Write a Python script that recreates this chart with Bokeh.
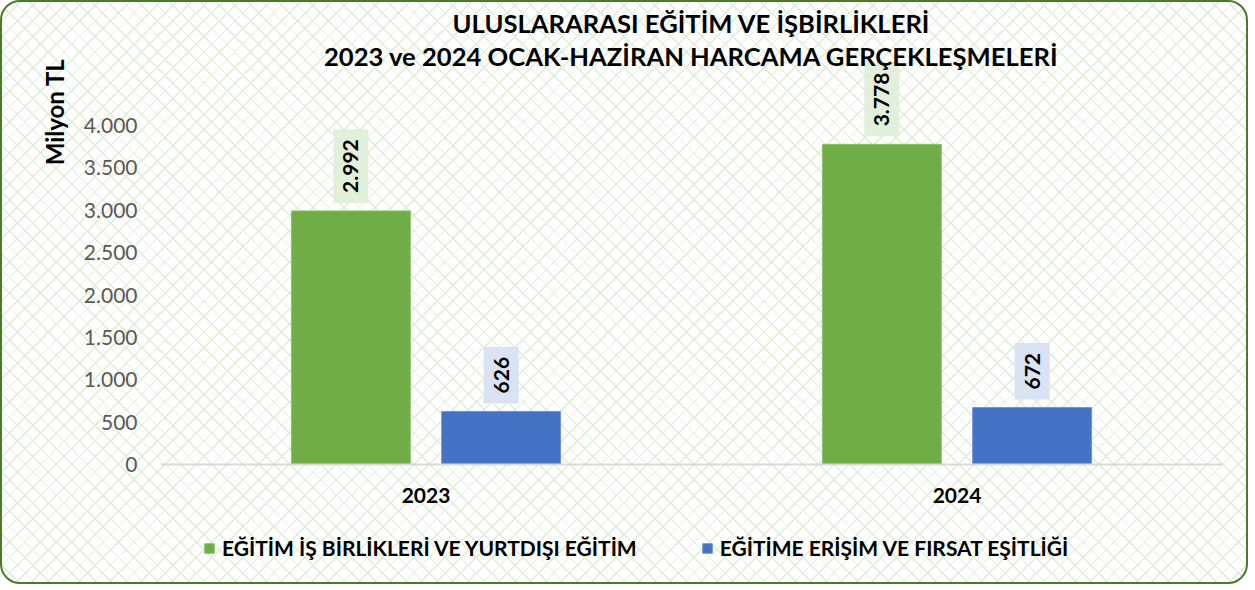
import math
from bokeh.plotting import figure
from bokeh.models import (FactorRange, Range1d, FixedTicker, ColumnDataSource,
                          Legend, LegendItem, Label, Title, Span)
from bokeh.transform import dodge
from bokeh.embed import file_html
from bokeh.resources import INLINE
from bokeh.core.properties import value

# ---------------- data ----------------
years = ["2023", "2024"]
egitim_isbirlikleri = [2992, 3778]
firsat_esitligi = [626, 672]
series_names = ["EĞİTİM İŞ BİRLİKLERİ VE YURTDIŞI EĞİTİM",
                "EĞİTİME ERİŞİM VE FIRSAT EŞİTLİĞİ"]
y_ticks = [0, 500, 1000, 1500, 2000, 2500, 3000, 3500, 4000]
y_tick_labels = ["0", "500", "1.000", "1.500", "2.000", "2.500", "3.000", "3.500", "4.000"]
title_lines = ["ULUSLARARASI EĞİTİM VE İŞBİRLİKLERİ",
               "2023 ve 2024 OCAK-HAZİRAN HARCAMA GERÇEKLEŞMELERİ"]
y_axis_title = "Milyon TL"

# ---------------- style / layout ----------------
FONT = "Lato"
GREEN, BLUE = "#70ad47", "#4472c4"
GREEN_LBL, BLUE_LBL = "#e2efda", "#dae3f3"
W, H = 1248, 584
FRAME_L, FRAME_R = 158, 28
ZERO_Y = 462                          # screen y of the value 0 line
px_per_unit = 339.0 / 4000.0          # pixels per data unit on y
y_top = ZERO_Y / px_per_unit
y_bottom = -(H - ZERO_Y) / px_per_unit


def y_at(sy):
    """data y for a screen y (px from the top of the plot)"""
    return (ZERO_Y - sy) / px_per_unit


def fmt(v):
    return f"{v:,}".replace(",", ".")


src = ColumnDataSource(dict(
    year=years,
    a=egitim_isbirlikleri,
    b=firsat_esitligi,
    a_txt=[fmt(v) for v in egitim_isbirlikleri],
    b_txt=[fmt(v) for v in firsat_esitligi],
    base=[0] * len(years),
))

LC = "#e0eed8"
pattern = (f"repeating-linear-gradient(45deg, {LC} 0px, {LC} 1.2px, transparent 1.2px, transparent 11px),"
           f"repeating-linear-gradient(-45deg, {LC} 0px, {LC} 1.2px, transparent 1.2px, transparent 11px)")

p = figure(x_range=FactorRange(*years, range_padding=0), y_range=Range1d(y_bottom, y_top),
           width=W, height=H, output_backend="svg", toolbar_location=None,
           min_border_left=FRAME_L, min_border_right=FRAME_R,
           min_border_bottom=0, min_border_top=0)
p.styles = {"border": "2px solid #4d7a2a", "border-radius": "20px",
            "background-color": "white", "background-image": pattern}
p.background_fill_color = None
p.border_fill_color = None
p.outline_line_color = None
p.xgrid.visible = False
p.ygrid.visible = False

bw = 0.224
off = 0.1415
r1 = p.vbar(x=dodge("year", -off, range=p.x_range), top="a", width=bw, bottom=0,
            source=src, fill_color=GREEN, line_color="#8cc26a", line_width=1)
r2 = p.vbar(x=dodge("year", off, range=p.x_range), top="b", width=bw, bottom=0,
            source=src, fill_color=BLUE, line_color="#6f93d6", line_width=1)

# category axis: baseline + labels
p.add_layout(Span(location=0, dimension="width", line_color="#d9d9d9", line_width=2))
p.xaxis.visible = False
p.text(x="year", y="base", text="year", source=src, y_offset=31,
       text_align="center", text_baseline="middle", text_font=value(FONT),
       text_font_style="bold", text_font_size="21px", text_color="black")

# value labels
for col, txt, dx, bg in (("a", "a_txt", -off, GREEN_LBL), ("b", "b_txt", off, BLUE_LBL)):
    p.text(x=dodge("year", dx, range=p.x_range), y=col, text=txt, source=src,
           angle=math.pi / 2, text_align="left", text_baseline="middle",
           text_font=value(FONT), text_font_style="bold", text_font_size="21px",
           text_color="black", background_fill_color=bg, padding=10,
           y_offset=-8)

# value axis
p.yaxis.ticker = FixedTicker(ticks=y_ticks)
p.yaxis.major_label_overrides = {t: l for t, l in zip(y_ticks, y_tick_labels)}
p.yaxis.axis_line_color = None
p.yaxis.major_tick_line_color = None
p.yaxis.minor_tick_line_color = None
p.yaxis.major_tick_out = 0
p.yaxis.major_label_standoff = 23
p.yaxis.major_label_text_font = FONT
p.yaxis.major_label_text_font_size = "21px"
p.yaxis.major_label_text_color = "#595959"

# chart title (two lines, drawn inside the top of the frame)
for line, sy in zip(title_lines, (20, 53)):
    p.add_layout(Label(x=1.0, y=y_at(sy), text=line, text_align="center",
                       text_baseline="middle", text_font=FONT, text_font_style="bold",
                       text_font_size="25.6px", text_color="black"))

# value-axis title
p.add_layout(Title(text=y_axis_title, align="right", offset=56, standoff=23,
                   text_font=FONT, text_font_style="bold", text_font_size="24px",
                   text_color="black"), "left")

legend = Legend(items=[LegendItem(label=series_names[0], renderers=[r1]),
                       LegendItem(label=series_names[1], renderers=[r2])],
                orientation="horizontal", location=(43, 26),
                glyph_width=12, glyph_height=12, label_standoff=7, spacing=64,
                label_height=20, padding=0, margin=0,
                border_line_color=None, background_fill_alpha=0,
                label_text_font=FONT, label_text_font_style="bold",
                label_text_font_size="21px", label_text_color="black")
p.add_layout(legend, "center")

open("out.html", "w").write(file_html(p, INLINE))
